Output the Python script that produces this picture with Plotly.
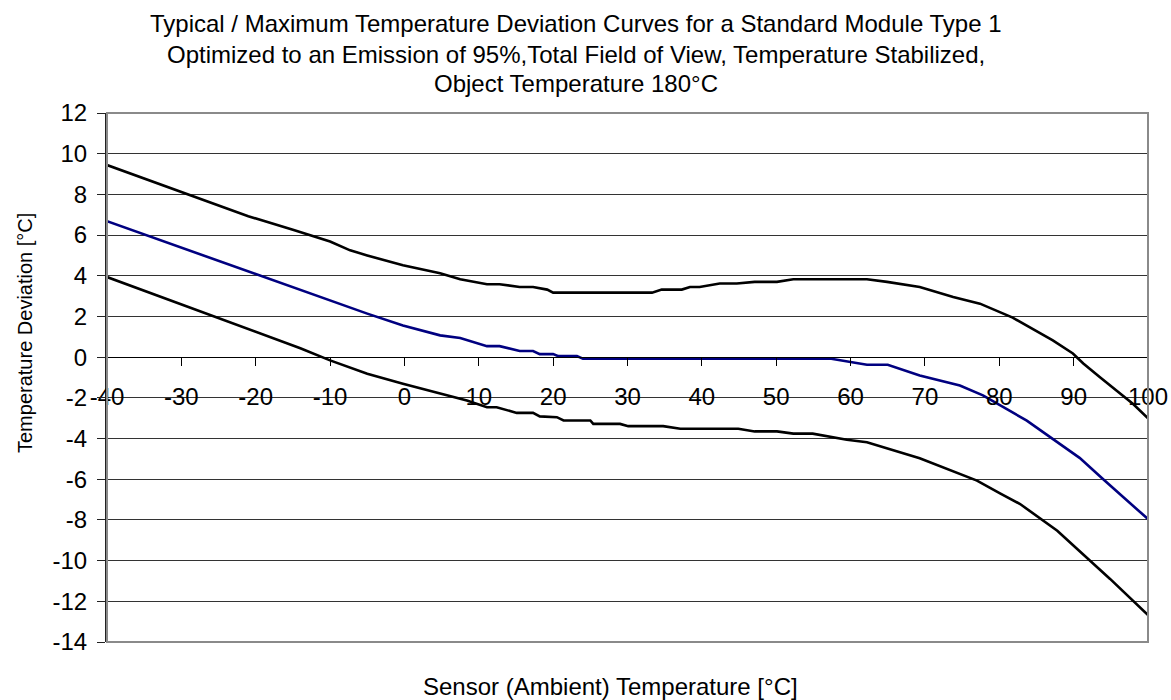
import plotly.graph_objects as go

# ---- data ----
x_upper = [-40, -35, -30, -25, -21, -15, -12.7, -10, -7.3, -5, -0.2, 4.8, 7.5, 11.1, 12.8, 15.5, 17.3,
           19.2, 20.0, 33.3, 34.6, 37.3, 38.4, 39.7, 42.4, 44.7, 47.1, 50.1, 52.3, 62.2, 64.9, 69.3,
           73.8, 77.4, 81.8, 87.2, 89.9, 91.3, 93.5, 96, 98, 100]
y_upper = [9.44, 8.78, 8.12, 7.46, 6.93, 6.26, 6.0, 5.68, 5.25, 5.0, 4.52, 4.12, 3.83, 3.58, 3.58, 3.45,
           3.45, 3.32, 3.17, 3.17, 3.32, 3.32, 3.45, 3.45, 3.62, 3.62, 3.70, 3.70, 3.83, 3.83, 3.70,
           3.45, 2.96, 2.63, 1.94, 0.82, 0.18, -0.31, -0.98, -1.7, -2.3, -3.0]

x_typ = [-40, -30, -20, -14, -5, -0.2, 4.8, 7.5, 11.1, 12.8, 15.5, 17.3, 18.2, 20.0, 20.7, 23.2, 24.0,
         57.2, 60.2, 62.2, 65.0, 69.3, 74.7, 77.8, 83.7, 90.8, 93.9, 97.2, 100]
y_typ = [6.68, 5.38, 4.09, 3.32, 2.14, 1.56, 1.07, 0.94, 0.54, 0.54, 0.30, 0.30, 0.15, 0.15, 0.05, 0.05,
         -0.07, -0.07, -0.25, -0.37, -0.37, -0.90, -1.39, -1.88, -3.12, -4.95, -5.98, -7.05, -7.96]

x_lower = [-40, -35, -30, -25, -20, -14, -10, -5, -0.2, 4.8, 8.4, 11.1, 12.4, 15.1, 17.3, 18.2, 20.5,
           21.4, 25.0, 25.4, 29.0, 30.1, 34.8, 37.1, 44.9, 47.1, 50.1, 52.3, 54.9, 59.5, 62.2, 69.3,
           77.0, 80.1, 82.8, 87.8, 90.8, 92.2, 94.9, 100]
y_lower = [3.94, 3.27, 2.6, 1.92, 1.25, 0.44, -0.16, -0.82, -1.31, -1.80, -2.13, -2.46, -2.46, -2.74,
           -2.74, -2.91, -2.95, -3.11, -3.11, -3.28, -3.28, -3.39, -3.39, -3.52, -3.52, -3.65, -3.65,
           -3.76, -3.76, -4.06, -4.18, -4.97, -6.07, -6.69, -7.22, -8.53, -9.52, -10.0, -10.9, -12.68]

x_tickvals = [-40, -30, -20, -10, 0, 10, 20, 30, 40, 50, 60, 70, 80, 90, 100]
x_ticktext = ["-40", "-30", "-20", "-10", "0", "10", "20", "30", "40", "50", "60", "70", "80", "90", "100"]
y_tickvals = [12, 10, 8, 6, 4, 2, 0, -2, -4, -6, -8, -10, -12, -14]
y_ticktext = ["12", "10", "8", "6", "4", "2", "0", "-2", "-4", "-6", "-8", "-10", "-12", "-14"]

title_lines = ["Typical / Maximum Temperature Deviation Curves for a Standard Module Type 1",
               "Optimized to an Emission of 95%,Total Field of View, Temperature Stabilized,",
               "Object Temperature 180°C"]
x_title = "Sensor (Ambient) Temperature [°C]"
y_title = "Temperature Deviation [°C]"

FONT = "Liberation Sans, Arial, sans-serif"
W, H = 1171, 700
L, R, T, B = 107, 23, 113, 58
PW, PH = W - L - R, H - T - B


def px_x(px):
    return (px - L) / PW


def px_y(py):
    return (H - B - py) / PH


fig = go.Figure()
fig.add_trace(go.Scatter(x=x_upper, y=y_upper, mode="lines", line=dict(color="#000000", width=2.6),
                         showlegend=False, hoverinfo="skip"))
fig.add_trace(go.Scatter(x=x_typ, y=y_typ, mode="lines", line=dict(color="#000080", width=2.6),
                         showlegend=False, hoverinfo="skip"))
fig.add_trace(go.Scatter(x=x_lower, y=y_lower, mode="lines", line=dict(color="#000000", width=2.6),
                         showlegend=False, hoverinfo="skip"))

ymin, ymax = -14, 12
fig.update_layout(
    width=W, height=H,
    margin=dict(l=L, r=R, t=T, b=B),
    paper_bgcolor="white", plot_bgcolor="white",
    font=dict(family=FONT, size=24, color="black"),
    xaxis=dict(range=[-40, 100], tickvals=x_tickvals, ticktext=x_ticktext, showgrid=False,
               zeroline=False, showline=True, linecolor="black", linewidth=1,
               ticks="outside", ticklen=8, tickcolor="black", tickwidth=1,
               anchor="free", position=(0 - ymin) / (ymax - ymin), ticklabelstandoff=10,
               automargin=False, tickfont=dict(size=24, family=FONT)),
    yaxis=dict(range=[ymin, ymax], tickvals=y_tickvals, ticktext=y_ticktext, showgrid=True,
               gridcolor="#333333", gridwidth=1, zeroline=False, showline=True, linecolor="#222222",
               linewidth=2, ticks="outside", ticklen=8, tickcolor="#222222", tickwidth=1,
               ticklabelstandoff=5, automargin=False, tickfont=dict(size=24, family=FONT)),
)

# plot-area frame
fig.add_shape(type="rect", xref="paper", yref="paper", x0=0, x1=1, y0=0, y1=1,
              line=dict(color="#8a8a8a", width=2), layer="above")

# title lines
for line, cy in zip(title_lines, [24, 54, 84]):
    fig.add_annotation(text=line, xref="paper", yref="paper", x=px_x(576), y=px_y(cy),
                       xanchor="center", yanchor="middle", showarrow=False,
                       font=dict(size=24, family=FONT))

fig.add_annotation(text=x_title, xref="paper", yref="paper", x=px_x(610), y=px_y(686),
                   xanchor="center", yanchor="middle", showarrow=False,
                   font=dict(size=24, family=FONT))
fig.add_annotation(text=y_title, xref="paper", yref="paper", x=px_x(25), y=px_y(333),
                   xanchor="center", yanchor="middle", textangle=-90, showarrow=False,
                   font=dict(size=20, family=FONT))

fig.write_html("out.html")
